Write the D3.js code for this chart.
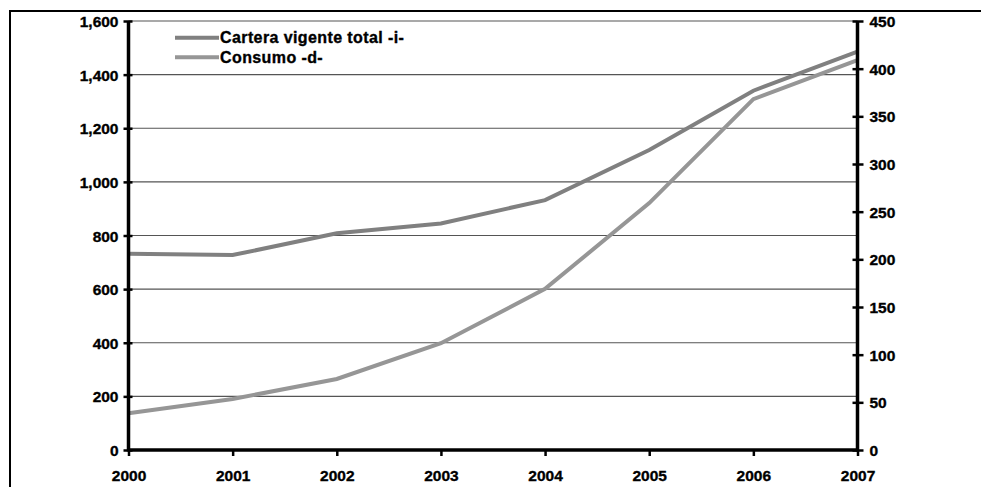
<!DOCTYPE html>
<html>
<head>
<meta charset="utf-8">
<script src="https://cdn.jsdelivr.net/npm/d3@7"></script>
<style>
  html, body { margin: 0; padding: 0; background: #fff; }
  svg { display: block; }
  text { font-family: "Liberation Sans", Arial, sans-serif; font-weight: bold; fill: #000; stroke: #000; stroke-width: 0.35px; }
</style>
</head>
<body>
<svg id="chart" width="981" height="487"></svg>
<script>
const years = ["2000", "2001", "2002", "2003", "2004", "2005", "2006", "2007"];
const cartera = [732, 727, 808, 845, 932, 1119, 1340, 1486];
const consumo = [38.5, 53.5, 74.5, 112, 169, 259, 368, 409];
const leftTicks = [0, 200, 400, 600, 800, 1000, 1200, 1400, 1600];
const rightTicks = [0, 50, 100, 150, 200, 250, 300, 350, 400, 450];
const seriesNames = ["Cartera vigente total -i-", "Consumo -d-"];

const svg = d3.select("#chart");
const plotLeft = 128.5, plotRight = 857.5, plotTop = 21, plotBottom = 450;

// outer frame
svg.append("rect")
  .attr("x", 10).attr("y", 11).attr("width", 1000).attr("height", 500)
  .attr("fill", "none").attr("stroke", "#000").attr("stroke-width", 2);

const x = d3.scalePoint().domain(years).range([plotLeft, plotRight]).padding(0);
const yL = d3.scaleLinear().domain([0, 1600]).range([plotBottom, plotTop]);
const yR = d3.scaleLinear().domain([0, 450]).range([plotBottom, plotTop]);

// gridlines
svg.append("g").selectAll("line").data(leftTicks.filter(d => d > 0)).join("line")
  .attr("x1", plotLeft).attr("x2", plotRight)
  .attr("y1", d => yL(d)).attr("y2", d => yL(d))
  .attr("stroke", "#555").attr("stroke-width", 1.2);

// lines
const lineL = d3.line().x((d, i) => x(years[i])).y(d => yL(d));
const lineR = d3.line().x((d, i) => x(years[i])).y(d => yR(d));
svg.append("path").datum(consumo).attr("d", lineR)
  .attr("fill", "none").attr("stroke", "#969696").attr("stroke-width", 4);
svg.append("path").datum(cartera).attr("d", lineL)
  .attr("fill", "none").attr("stroke", "#808080").attr("stroke-width", 4);

const fs = "15.5px";

// left axis
const gL = svg.append("g").attr("transform", `translate(${plotLeft},0)`)
  .call(d3.axisLeft(yL).tickValues(leftTicks).tickFormat(d3.format(",")).tickSize(5).tickPadding(6));
gL.select(".domain").remove();
gL.selectAll(".tick line").attr("x2", -5).attr("x1", 4).attr("stroke", "#000").attr("stroke-width", 2.5);
gL.selectAll(".tick text").attr("font-size", fs).attr("font-family", null).attr("x", -10).attr("dy", "0.36em");

// right axis
const gR = svg.append("g").attr("transform", `translate(${plotRight},0)`)
  .call(d3.axisRight(yR).tickValues(rightTicks).tickSize(6).tickPadding(8));
gR.select(".domain").remove();
gR.selectAll(".tick line").attr("x1", -5).attr("x2", 6).attr("stroke", "#000").attr("stroke-width", 2.5);
gR.selectAll(".tick text").attr("font-size", fs).attr("font-family", null).attr("x", 12).attr("dy", "0.36em");

// bottom axis
const gB = svg.append("g").attr("transform", `translate(0,${plotBottom})`)
  .call(d3.axisBottom(x).tickSize(6).tickPadding(14));
gB.select(".domain").remove();
gB.selectAll(".tick line").attr("stroke", "#000").attr("stroke-width", 2.5);
gB.selectAll(".tick text").attr("font-size", fs).attr("font-family", null).attr("y", 20).attr("dy", "0.72em");

// axis lines (thick)
const axes = svg.append("g").attr("stroke", "#000").attr("stroke-width", 3.5);
axes.append("line").attr("x1", x.range()[0]).attr("x2", x.range()[0]).attr("y1", yL.range()[0] + 1.5).attr("y2", yL.range()[1]);
axes.append("line").attr("x1", x.range()[1]).attr("x2", x.range()[1]).attr("y1", yR.range()[0] + 1.5).attr("y2", yR.range()[1]);
axes.append("line").attr("x1", x.range()[0]).attr("x2", x.range()[1]).attr("y1", yL.range()[0]).attr("y2", yL.range()[0]);

// legend
const legColors = ["#808080", "#969696"];
const legY = [37.7, 57.3];
const leg = svg.append("g");
seriesNames.forEach((name, i) => {
  leg.append("line").attr("x1", 175).attr("x2", 219).attr("y1", legY[i]).attr("y2", legY[i])
    .attr("stroke", legColors[i]).attr("stroke-width", 4);
  leg.append("text").attr("x", 220).attr("y", legY[i]).attr("dy", "0.36em")
    .attr("font-size", "16px").attr("letter-spacing", "0.4px").text(name);
});
</script>
</body>
</html>
